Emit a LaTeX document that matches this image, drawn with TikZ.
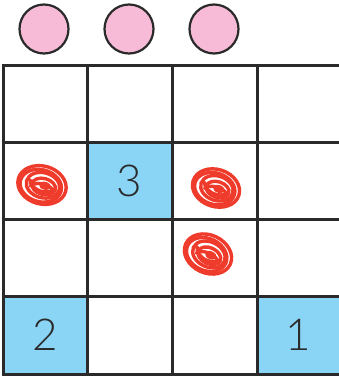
\documentclass[tikz,border=0pt]{standalone}
\usepackage{fontspec}
\newfontfamily\numfont{Lato Light}
\definecolor{gridc}{HTML}{2A2A2A}
\definecolor{pinkc}{HTML}{F7BBD7}
\definecolor{bluec}{HTML}{8AD5F6}
\definecolor{redc}{HTML}{EE3B2B}
\tikzset{
  gridline/.style={draw=gridc, line width=3pt},
  token/.style={circle, draw=gridc, line width=2.2pt, fill=pinkc, minimum size=49pt, inner sep=0pt},
  num/.style={font=\numfont\fontsize{44}{44}\selectfont, text=gridc, inner sep=0pt},
  bluecell/.style={fill=bluec, draw=none},
  scrib/.style={draw=redc, line width=3.4pt, line cap=round}
}
\newcommand{\myscribble}[4]{%
  \begin{scope}[shift={(#1,#2)}, rotate=#4, scale=#3]
    \draw[scrib] (0,0) ellipse (24.5 and 19);
    \draw[scrib] (-1,1) ellipse (21 and 16);
    \draw[scrib] (1,0) ellipse (17 and 12.5);
    \draw[scrib] (2,1) ellipse (12 and 8);
    \draw[scrib] (-11,4) arc (200:340:13 and 8);
    \draw[scrib] (-13,-2) arc (170:30:14 and 10);
    \fill[redc] (3,0) ellipse (6 and 4);
  \end{scope}}
\begin{document}
\begin{tikzpicture}[x=1pt, y=-1pt]
\useasboundingbox (0,0) rectangle (339,378);
% blue cells
\fill[bluecell] (87.5,142) rectangle (172,219);
\fill[bluecell] (3,296) rectangle (87.5,374);
\fill[bluecell] (257,296) rectangle (339,374);
% grid
\foreach \y in {65,142,219,296,374} \draw[gridline] (1.5,\y) -- (339,\y);
\foreach \x in {3,87.5,172,257} \draw[gridline] (\x,63.5) -- (\x,375.5);
% tokens
\node[token] (t1) at (44,29) {};
\node[token] (t2) at (129,29) {};
\node[token] (t3) at (214,29) {};
% numbers
\node[num] (n3) at (129.5,181) {3};
\node[num] (n2) at (45,335) {2};
\node[num] (n1) at (298,335) {1};
% scribbles
\myscribble{42}{185}{1.0}{-15}
\myscribble{216}{188}{0.98}{-18}
\myscribble{208}{254}{1.0}{-25}
\end{tikzpicture}
\end{document}
